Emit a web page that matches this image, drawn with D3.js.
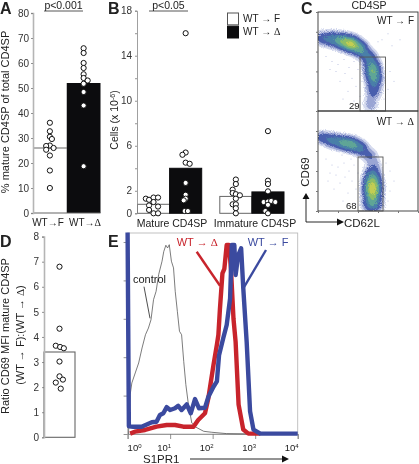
<!DOCTYPE html>
<html>
<head>
<meta charset="utf-8">
<script src="https://cdn.jsdelivr.net/npm/d3@7"></script>
<style>
  html, body { margin: 0; padding: 0; background: #fff; }
  svg { display: block; filter: blur(0.3px); }
  text { font-family: "Liberation Sans", Arial, sans-serif; fill: #222; }
</style>
</head>
<body>
<div id="chart"></div>
<script>
// Panel A: % mature CD4SP
const aTicks = [0, 10, 20, 30, 40, 50, 60, 70, 80];
const aGroups = ["WT→F", "WT→Δ"];
const aBars = [26, 52];
const aF = [36.1, 32.7, 30.5, 29.6, 27, 26.8, 26, 25.3, 23, 17, 10];
const aFJitter = [0, 0, 0, 0.06, 0, -0.11, 0.11, -0.11, 0, 0, 0];
const aD = [65.9, 64, 60, 58, 55.5, 54, 53, 51.7, 48.4, 43, 18.7];
const aDJitter = [0, 0, 0, 0, 0, 0, 0.12, 0, 0, 0, 0];

// Panel B: cell counts
const bTicks = [0, 2, 4, 6, 8, 10, 12, 14, 16, 18];
const bTickLabels = [0, 2, 6, 10, 14, 18];
const bGroups = ["Mature CD4SP", "Immature CD4SP"];
const bSeries = ["WT → F", "WT → Δ"];
const bBarsF = [0.8, 1.5];
const bBarsD = [4.0, 1.9];
const bMatureF = [1.3, 1.2, 1.4, 1.4, 1.0, 0.7, 0.6, 0.3, 0, 0];
const bMatureFJitter = [-0.24, -0.14, 0, 0.14, 0, -0.14, 0.14, -0.14, 0, 0.14];
const bMatureD = [16, 5.4, 5.2, 4.5, 4.4, 2.7, 1.65, 1.3, 1.15, 0.2, 0.2];
const bMatureDJitter = [0, 0, -0.1, 0, 0.125, 0, 0, 0, -0.06, -0.03, 0.07];
const bImmatureF = [3, 2.6, 2.1, 1.8, 1.7, 1.6, 1.3, 0.8, 0.8, 0.45, 0];
const bImmatureFJitter = [0, 0, -0.1, -0.1, 0, 0.125, 0, -0.1, 0, 0, 0];
const bImmatureD = [7.3, 2.9, 2.6, 1.95, 1, 1.05, 1.1, 1, 0.75, 0.2, 0];
const bImmatureDJitter = [0, 0, 0, 0, -0.135, 0, 0.1, 0.23, 0, -0.08, 0];

// Panel C: flow cytometry populations, [CD62L, CD69, spreadX, spreadY, weight]
const cTopBlobs = [
  [4, 73, 4.5, 4.2, 0.16], [14, 72, 5, 4.6, 0.24], [24, 70, 5, 4.6, 0.42], [33, 67, 5, 4.6, 0.62],
  [42, 62, 4.5, 4.6, 0.36], [50, 54, 4.5, 4.6, 0.2], [54, 42, 4.6, 6, 0.42], [56, 32, 4.6, 5.5, 0.28],
  [55, 20, 4.6, 5.5, 0.14], [52, 6, 4.6, 5.5, 0.07]
];
const cBottomBlobs = [
  [4, 73, 4.5, 3.8, 0.16], [14, 70, 5, 4.2, 0.22], [24, 68, 5, 4.2, 0.3], [33, 66, 5, 4.2, 0.36],
  [42, 62, 4.5, 4.2, 0.24], [51, 55, 4.5, 4.2, 0.11], [56, 46, 4.2, 4.5, 0.06], [54, 36, 4.8, 5, 0.1],
  [54, 22, 5, 9, 0.78], [54, 6, 5.5, 4.5, 0.22]
];
const cTopSpecks = [
  [8, 55], [14, 50], [20, 47], [26, 52], [31, 44], [36, 50], [27, 38], [22, 30], [34, 33], [40, 42],
  [18, 40], [12, 42], [38, 25], [30, 20], [42, 15], [25, 12], [36, 10], [44, 30], [46, 48], [33, 56],
  [70, 78], [74, 66], [82, 72], [72, 40], [76, 30], [70, 22], [66, 12], [64, 72], [60, 70], [48, 8]
];
const cBottomSpecks = [
  [8, 52], [14, 46], [20, 44], [26, 48], [31, 40], [36, 46], [27, 34], [22, 28], [34, 30], [40, 38],
  [18, 36], [12, 38], [38, 22], [30, 18], [42, 14], [25, 10], [36, 8], [44, 28], [46, 44], [33, 52],
  [72, 40], [76, 30], [72, 20], [70, 10], [68, 48], [30, 6], [16, 22], [42, 6], [10, 30], [24, 56]
];
const cLevels = [0.02, 0.05, 0.1, 0.2, 0.33, 0.48, 0.64, 0.8];
const cColors = ["#d5daee", "#9aa5d4", "#4a5fae", "#4a7fa8", "#5fa596", "#8dbd66", "#c2cd52", "#e8c84a"];

// Panel D: CD69 MFI ratio
const dTicks = [0, 1, 2, 3, 4, 5, 6, 7, 8];
const dBar = 3.4;
const dRatio = [6.8, 4.33, 3.65, 3.6, 3.55, 3.02, 2.43, 2.3, 2.18, 1.94];
const dJitter = [0, 0, -0.12, 0.02, 0.14, 0, 0, 0.11, -0.12, 0.04];

// Panel E: S1PR1 histograms, x in decades (log10), y in % of max
const eDecades = [0, 1, 2, 3, 4];
const eYTicks = [0, 20, 40, 60, 80, 100];
const controlX = [0.02, 0.06, 0.10, 0.18, 0.26, 0.34, 0.42, 0.49, 0.55, 0.61, 0.67, 0.73, 0.81, 0.85, 0.90, 0.94, 0.98, 1.03, 1.08, 1.12, 1.17, 1.22, 1.27, 1.32, 1.37, 1.43, 1.51, 1.61, 1.79, 1.98, 2.33, 2.96];
const controlY = [0, 20.5, 26.6, 31.8, 37, 44.8, 51.7, 55.2, 59.5, 70, 74.3, 83, 90, 95, 98.3, 96.9, 98.6, 90, 86.5, 74.3, 63.9, 53.5, 51.7, 37.8, 25.7, 15.3, 5.7, 3.5, 1.4, 0.9, 0.2, 0];
const redX = [0.06, 0.17, 0.41, 0.68, 0.92, 1.115, 1.31, 1.55, 1.66, 1.82, 1.9, 2.02, 2.1, 2.135, 2.17, 2.23, 2.275, 2.33, 2.385, 2.43, 2.49, 2.54, 2.61, 2.72, 2.84, 3.12];
const redY = [0.2, 1.2, 2.1, 3.8, 4.7, 4.7, 3.8, 3.8, 7.3, 10.8, 18.8, 36, 46.5, 51.6, 64.6, 83.7, 86, 98.4, 98.4, 86, 60, 48, 15.3, 2.3, 0.2, 0.2];
const blueX = [0, 0.03, 0.134, 0.33, 0.57, 0.68, 0.76, 0.84, 0.92, 1, 1.115, 1.19, 1.27, 1.39, 1.485, 1.585, 1.68, 1.82, 1.9, 2.02, 2.1, 2.15, 2.25, 2.33, 2.41, 2.45, 2.51, 2.54, 2.6, 2.67, 2.72, 2.8, 2.88, 2.96, 3.12, 4];
const blueY = [105, 4, 3.8, 3.8, 6.1, 6.4, 9.9, 10.8, 14, 12.5, 13.4, 14.7, 12.5, 15.4, 10.8, 18.2, 13.4, 13.7, 19.4, 24.6, 27.4, 41, 50, 56.8, 70.6, 98.4, 98.4, 82.8, 93, 96.7, 76, 48, 11.8, 2.3, 0.2, 0.2];

const svg = d3.select("#chart").append("svg").attr("width", 419).attr("height", 464);
const defs = svg.append("defs");

// grainy edge for the flow plots
const grain = defs.append("filter").attr("id", "grain").attr("x", 0).attr("y", 0).attr("width", 1).attr("height", 1);
grain.append("feTurbulence").attr("type", "fractalNoise").attr("baseFrequency", 1.1).attr("numOctaves", 1).attr("seed", 3).attr("result", "n");
grain.append("feDisplacementMap").attr("in", "SourceGraphic").attr("in2", "n").attr("scale", 5);
grain.append("feGaussianBlur").attr("stdDeviation", 0.3);

const deltaLabel = (s) => s.replace("Δ", '<tspan font-family="Liberation Serif">Δ</tspan>');

function label(x, y, txt, size, anchor, rotate) {
  const t = svg.append("text").attr("font-size", size).attr("text-anchor", anchor || "start");
  if (rotate) t.attr("transform", `translate(${x},${y}) rotate(-90)`);
  else t.attr("x", x).attr("y", y);
  t.html(deltaLabel(txt));
  return t;
}

function styleAxis(g, color, width, fontSize) {
  g.select(".domain").attr("stroke", color).attr("stroke-width", width);
  g.selectAll(".tick line").attr("stroke", "#777").attr("stroke-width", 0.8);
  g.selectAll(".tick text").attr("font-size", fontSize).attr("font-family", "Liberation Sans").style("fill", "#333");
}

function dots(values, jitter, cx, barW, y) {
  svg.append("g").selectAll("circle").data(values).enter().append("circle")
    .attr("cx", (d, i) => cx + jitter[i] * barW)
    .attr("cy", d => y(d))
    .attr("r", 2.6)
    .attr("fill", "#fff")
    .attr("stroke", "#111")
    .attr("stroke-width", 1);
}

function sigBar(x1, x2, yPos, txt) {
  svg.append("line").attr("x1", x1).attr("x2", x2).attr("y1", yPos).attr("y2", yPos).attr("stroke", "#444").attr("stroke-width", 0.9);
  label((x1 + x2) / 2, 9, txt, 10.5, "middle");
}

function drawA() {
  const y = d3.scaleLinear().domain([0, 80]).range([213, 13]);
  const x = d3.scaleBand().domain(aGroups).range([33, 100.5]);
  const w = x.bandwidth();
  // the F bar is only its top line
  svg.append("line").attr("x1", x(aGroups[0])).attr("x2", x(aGroups[0]) + w).attr("y1", y(aBars[0])).attr("y2", y(aBars[0])).attr("stroke", "#666").attr("stroke-width", 1.2);
  svg.append("rect").attr("x", x(aGroups[1])).attr("width", w).attr("y", y(aBars[1])).attr("height", y(0) - y(aBars[1])).attr("fill", "#0c0c0e");
  svg.append("line").attr("x1", 33).attr("x2", 100.5).attr("y1", y(0)).attr("y2", y(0)).attr("stroke", "#666").attr("stroke-width", 1.2);
  const ax = svg.append("g").attr("transform", "translate(33,0)").call(d3.axisLeft(y).tickValues(aTicks).tickSize(2).tickPadding(2));
  styleAxis(ax, "#b5b5b5", 1.6, 10);
  dots(aF, aFJitter, x(aGroups[0]) + w / 2, w, y);
  dots(aD, aDJitter, x(aGroups[1]) + w / 2, w, y);
  label(0, 13.5, "A", 16, "start").attr("font-weight", "bold");
  sigBar(44, 83, 11, "p&lt;0.001");
  label(9, 112, "% mature CD4SP of total CD4SP", 11, "middle", true);
  label(48, 225.5, aGroups[0], 10, "middle");
  label(85, 225.5, aGroups[1], 10, "middle");
}

function drawB() {
  const y = d3.scaleLinear().domain([0, 18]).range([213.3, 10.7]);
  const x0 = d3.scaleBand().domain(bGroups).range([137.5, 284]).paddingInner(0.22);
  const x1 = d3.scaleBand().domain(bSeries).range([0, x0.bandwidth()]);
  const w = x1.bandwidth();
  const rows = [[bBarsF, "#fff"], [bBarsD, "#0c0c0e"]];
  rows.forEach((r, s) => {
    svg.append("g").selectAll("rect").data(r[0]).enter().append("rect")
      .attr("x", (d, i) => x0(bGroups[i]) + x1(bSeries[s]))
      .attr("y", d => y(d))
      .attr("width", w)
      .attr("height", d => y(0) - y(d))
      .attr("fill", r[1])
      .attr("stroke", s ? "#0c0c0e" : "#666")
      .attr("stroke-width", 1);
  });
  const ax = svg.append("g").attr("transform", "translate(137,0)").call(d3.axisLeft(y).tickValues(bTicks).tickSize(2).tickPadding(3).tickFormat(d => bTickLabels.includes(d) ? d : ""));
  styleAxis(ax, "#888", 0.8, 10);
  const cx = (g, s) => x0(bGroups[g]) + x1(bSeries[s]) + w / 2;
  dots(bMatureF, bMatureFJitter, cx(0, 0), w, y);
  dots(bMatureD, bMatureDJitter, cx(0, 1), w, y);
  dots(bImmatureF, bImmatureFJitter, cx(1, 0), w, y);
  dots(bImmatureD, bImmatureDJitter, cx(1, 1), w, y);
  label(108, 13.5, "B", 16, "start").attr("font-weight", "bold");
  sigBar(149, 188, 11, "p&lt;0.05");
  const c = label(118, 120, "Cells (x 10", 10.5, "middle", true);
  c.append("tspan").attr("font-size", 7).attr("dy", -3.5).text("-6");
  c.append("tspan").attr("dy", 3.5).text(")");
  label(172, 227, bGroups[0], 10.5, "middle");
  label(255, 227, bGroups[1], 10.5, "middle");
  // legend
  const ly = d3.scaleBand().domain(bSeries).range([13, 38]).paddingInner(0.1);
  rows.forEach((r, s) => {
    svg.append("rect").attr("x", 227.5).attr("y", ly(bSeries[s])).attr("width", 11).attr("height", ly.bandwidth())
      .attr("fill", r[1]).attr("stroke", s ? "#0c0c0e" : "#555").attr("stroke-width", 1);
    label(243, ly(bSeries[s]) + 9, bSeries[s], 10, "start");
  });
}

function flowPlot(top, bottom, blobs, specks, gate, id) {
  const left = 318, right = 418;
  const x = d3.scaleLinear().domain([0, 100]).range([left, right]);
  const y = d3.scaleLinear().domain([0, 100]).range([bottom, top]);
  const n = 100;
  const grid = new Float64Array(n * n);
  for (let j = 0; j < n; j++) {
    for (let i = 0; i < n; i++) {
      let v = 0;
      blobs.forEach(b => {
        const dx = (i - b[0]) / b[2], dy = (j - b[1]) / b[3];
        v += b[4] * Math.exp(-0.5 * (dx * dx + dy * dy));
      });
      grid[i + j * n] = v;
    }
  }
  const contours = d3.contours().size([n, n]).thresholds(cLevels)(grid);
  const path = d3.geoPath(d3.geoTransform({ point(a, b) { this.stream.point(x(a), y(b)); } }));
  defs.append("clipPath").attr("id", id).append("rect").attr("x", left).attr("y", top).attr("width", right - left).attr("height", bottom - top);
  const g = svg.append("g").attr("clip-path", `url(#${id})`);
  const layer = g.append("g").attr("filter", "url(#grain)");
  layer.selectAll("path").data(contours).enter().append("path")
    .attr("d", path)
    .attr("fill", (d, i) => cColors[i]);
  g.append("g").selectAll("circle").data(specks).enter().append("circle")
    .attr("cx", d => x(d[0])).attr("cy", d => y(d[1])).attr("r", 0.5).attr("fill", "#a9b2da");
  svg.append("rect").attr("x", left).attr("y", top).attr("width", right - left).attr("height", bottom - top)
    .attr("fill", "none").attr("stroke", "#333").attr("stroke-width", 0.9);
  svg.append("rect").attr("x", x(gate[0])).attr("y", y(gate[1])).attr("width", x(gate[2]) - x(gate[0])).attr("height", bottom - y(gate[1]))
    .attr("fill", "none").attr("stroke", "#555").attr("stroke-width", 0.9);
  svg.append("g").attr("transform", `translate(${left},0)`).call(d3.axisLeft(y).ticks(5).tickSize(2).tickFormat(""))
    .call(a => { a.select(".domain").remove(); a.selectAll("line").attr("stroke", "#777"); });
}

function drawC() {
  flowPlot(12, 111, cTopBlobs, cTopSpecks, [42, 54.5, 67.5], "clipTop");
  flowPlot(111, 211, cBottomBlobs, cBottomSpecks, [40, 54, 65], "clipBottom");
  const bx = d3.scaleLinear().domain([0, 100]).range([318, 418]);
  svg.append("g").attr("transform", "translate(0,211)").call(d3.axisBottom(bx).ticks(5).tickSize(2).tickFormat(""))
    .call(a => { a.select(".domain").remove(); a.selectAll("line").attr("stroke", "#777"); });
  label(301, 13.5, "C", 16, "start").attr("font-weight", "bold");
  label(369, 9, "CD4SP", 10.5, "middle");
  label(414, 24, "WT → F", 10, "end");
  label(414, 125, "WT → Δ", 10, "end");
  label(349, 109, "29", 9.5, "start");
  label(346, 209, "68", 9.5, "start");
  label(309, 172, "CD69", 11.5, "middle", true);
  label(344, 226.5, "CD62L", 11.5, "start");
  svg.append("path").attr("d", "M306,222V197M306,222H338").attr("fill", "none").attr("stroke", "#111").attr("stroke-width", 0.9);
  svg.append("path").attr("d", "M306,193l-3.5,6h7zM344,222l-7,-3.5v7z").attr("fill", "#111");
}

function drawD() {
  const y = d3.scaleLinear().domain([0, 8]).range([437.3, 236.6]);
  svg.append("rect").attr("x", 44).attr("width", 31).attr("y", y(dBar)).attr("height", y(0) - y(dBar))
    .attr("fill", "#fff").attr("stroke", "#666").attr("stroke-width", 1.1);
  const ax = svg.append("g").attr("transform", "translate(44,0)").call(d3.axisLeft(y).tickValues(dTicks).tickSize(2).tickPadding(3));
  styleAxis(ax, "#b5b5b5", 1.6, 10);
  dots(dRatio, dJitter, 59.5, 31, y);
  label(0, 246.5, "D", 16, "start").attr("font-weight", "bold");
  label(8.5, 336, "Ratio CD69 MFI mature CD4SP", 11, "middle", true);
  label(24, 335, "(WT → F):(WT → Δ)", 11, "middle", true);
}

function drawE() {
  const x = d3.scaleLinear().domain([0, 4]).range([127.6, 297.7]);
  const y = d3.scaleLinear().domain([0, 100]).range([434, 242]);
  svg.append("rect").attr("x", 127.6).attr("y", 233).attr("width", 170.1).attr("height", 201)
    .attr("fill", "none").attr("stroke", "#bbb").attr("stroke-width", 0.9);
  const ay = svg.append("g").attr("transform", "translate(127.6,0)").call(d3.axisLeft(y).tickValues(eYTicks).tickSize(4).tickFormat(""));
  styleAxis(ay, "none", 0, 9);
  const ax = svg.append("g").attr("transform", "translate(0,434)").call(d3.axisBottom(x).tickValues(eDecades).tickSize(5).tickFormat(""));
  styleAxis(ax, "#888", 0.8, 9);

  const line = d3.line().x(d => x(d[0])).y(d => y(d[1]));
  const curves = [
    [d3.zip(controlX, controlY), "#444", 0.7],
    [d3.zip(redX, redY), "#c8242c", 4.4],
    [d3.zip(blueX, blueY), "#3b4a9f", 4.4]
  ];
  curves.forEach(c => {
    svg.append("path").datum(c[0]).attr("d", line).attr("fill", "none")
      .attr("stroke", c[1]).attr("stroke-width", c[2]).attr("stroke-linejoin", "round");
  });

  eDecades.forEach((d, i) => {
    const t = label(i === 0 ? x(d) : x(d) + 1, 451, "10", 9.5, i === 0 ? "start" : "end");
    t.append("tspan").attr("font-size", 6).attr("dy", -3.5).text(d);
  });

  // pointers from the labels to the curves
  svg.append("line").attr("x1", 196.7).attr("y1", 251.7).attr("x2", 220).attr("y2", 285.7).attr("stroke", "#c8242c").attr("stroke-width", 2.4);
  svg.append("line").attr("x1", 266).attr("y1", 250).attr("x2", 242.7).attr("y2", 289.3).attr("stroke", "#3b4a9f").attr("stroke-width", 2.4);
  svg.append("line").attr("x1", 144).attr("y1", 286.7).attr("x2", 150).attr("y2", 318.3).attr("stroke", "#222").attr("stroke-width", 0.8);

  label(108, 246.5, "E", 16, "start").attr("font-weight", "bold");
  label(133, 283, "control", 11, "start");
  label(176.7, 245.5, "WT → Δ", 11, "start").style("fill", "#c8242c");
  label(247.7, 245.5, "WT → F", 11, "start").style("fill", "#3b4a9f");
  label(143, 463, "S1PR1", 11.5, "start");
  svg.append("line").attr("x1", 190).attr("x2", 283).attr("y1", 459).attr("y2", 459).attr("stroke", "#111").attr("stroke-width", 0.9);
  svg.append("path").attr("d", "M289,459l-7,-3.5v7z").attr("fill", "#111");
}

drawA();
drawB();
drawC();
drawD();
drawE();
</script>
</body>
</html>
